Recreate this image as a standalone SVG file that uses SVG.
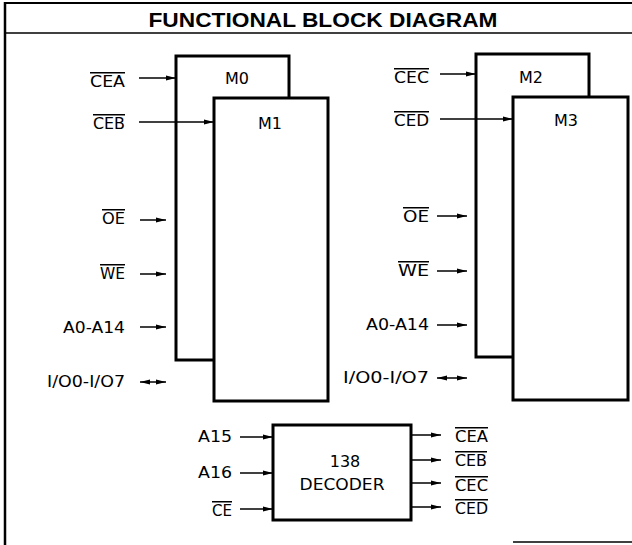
<svg xmlns="http://www.w3.org/2000/svg" width="632" height="545" viewBox="0 0 632 545">
<style>
.frame{stroke:#000;fill:none}
.box{fill:#fff;stroke:#000;stroke-width:3}
.ar{stroke:#000;stroke-width:1.5;fill:none;marker-end:url(#ah)}
.ar2{stroke:#000;stroke-width:1.5;fill:none;marker-end:url(#ah);marker-start:url(#ahs)}
text{font-family:"DejaVu Sans","Liberation Sans",sans-serif;font-size:15px;fill:#000}
.t{font-family:"Liberation Sans",Arial,sans-serif;font-weight:bold;font-size:21px}
.bl{font-size:16px}
.ov{text-decoration:overline}
.e{text-anchor:end}
.m{text-anchor:middle}
</style>
<defs>
<marker id="ah" markerUnits="userSpaceOnUse" markerWidth="10" markerHeight="6" refX="10" refY="3" orient="auto"><path d="M0,0.5 L10,3 L0,5.5 z" fill="#000"/></marker>
<marker id="ahs" markerUnits="userSpaceOnUse" markerWidth="10" markerHeight="6" refX="10" refY="3" orient="auto-start-reverse"><path d="M0,0.5 L10,3 L0,5.5 z" fill="#000"/></marker>
</defs>
<g id="frame">
<line class="frame" x1="4" y1="3" x2="632" y2="3" stroke-width="2"/>
<line class="frame" x1="4" y1="33" x2="632" y2="33" stroke-width="1.5"/>
<line class="frame" x1="5" y1="2" x2="5" y2="545" stroke-width="2.5"/>
<line class="frame" x1="513" y1="542" x2="632" y2="542" stroke-width="1.5" stroke="#555"/>
<text class="t m" x="323" y="27" textLength="349" lengthAdjust="spacingAndGlyphs">FUNCTIONAL BLOCK DIAGRAM</text>
</g>
<g id="M0"><rect class="box" x="176" y="56" width="113" height="304"/><text class="bl m" x="237" y="84">M0</text></g>
<g id="M1"><rect class="box" x="214" y="98" width="114" height="303"/><text class="bl m" x="270" y="129">M1</text></g>
<g id="M2"><rect class="box" x="476" y="54" width="113" height="303"/><text class="bl m" x="531" y="83">M2</text></g>
<g id="M3"><rect class="box" x="513" y="97" width="115" height="303"/><text class="bl m" x="566" y="126">M3</text></g>
<g id="decoder"><rect class="box" x="273" y="425" width="138" height="95"/><text class="bl m" x="345" y="467">138</text><text class="bl m" x="342" y="490" textLength="85" lengthAdjust="spacingAndGlyphs">DECODER</text></g>
<g id="connectors">
<line class="ar" x1="139" y1="78" x2="176" y2="78"/>
<line class="ar" x1="139" y1="122" x2="214" y2="122"/>
<line class="ar" x1="140" y1="220" x2="166" y2="220"/>
<line class="ar" x1="140" y1="274" x2="166" y2="274"/>
<line class="ar" x1="140" y1="327" x2="166" y2="327"/>
<line class="ar2" x1="140" y1="382" x2="166" y2="382"/>
<line class="ar" x1="440" y1="74" x2="476" y2="74"/>
<line class="ar" x1="440" y1="119" x2="513" y2="119"/>
<line class="ar" x1="437" y1="216" x2="467" y2="216"/>
<line class="ar" x1="437" y1="271" x2="467" y2="271"/>
<line class="ar" x1="437" y1="325" x2="467" y2="325"/>
<line class="ar2" x1="437" y1="378" x2="467" y2="378"/>
<line class="ar" x1="240" y1="437" x2="273" y2="437"/>
<line class="ar" x1="240" y1="473" x2="273" y2="473"/>
<line class="ar" x1="240" y1="509" x2="273" y2="509"/>
<line class="ar" x1="411" y1="435" x2="441" y2="435"/>
<line class="ar" x1="411" y1="460" x2="441" y2="460"/>
<line class="ar" x1="411" y1="483" x2="441" y2="483"/>
<line class="ar" x1="411" y1="507" x2="441" y2="507"/>
</g>
<g id="labels-left">
<text class="ov e" x="125" y="87" textLength="35" lengthAdjust="spacingAndGlyphs">CEA</text>
<text class="ov e" x="125" y="129" textLength="32" lengthAdjust="spacingAndGlyphs">CEB</text>
<text class="ov e" x="125" y="224" textLength="23" lengthAdjust="spacingAndGlyphs">OE</text>
<text class="ov e" x="125" y="279" textLength="25" lengthAdjust="spacingAndGlyphs">WE</text>
<text class="e" x="125" y="333" textLength="62" lengthAdjust="spacingAndGlyphs">A0-A14</text>
<text class="e" x="125" y="387" textLength="78" lengthAdjust="spacingAndGlyphs">I/O0-I/O7</text>
</g>
<g id="labels-right">
<text class="ov e" x="429" y="83" textLength="35" lengthAdjust="spacingAndGlyphs">CEC</text>
<text class="ov e" x="429" y="126" textLength="35" lengthAdjust="spacingAndGlyphs">CED</text>
<text class="ov e" x="429" y="222" textLength="26" lengthAdjust="spacingAndGlyphs">OE</text>
<text class="ov e" x="429" y="276" textLength="31" lengthAdjust="spacingAndGlyphs">WE</text>
<text class="e" x="429" y="330" textLength="63" lengthAdjust="spacingAndGlyphs">A0-A14</text>
<text class="e" x="429" y="383" textLength="86" lengthAdjust="spacingAndGlyphs">I/O0-I/O7</text>
</g>
<g id="labels-decoder">
<text class="e" x="232" y="442" textLength="34" lengthAdjust="spacingAndGlyphs">A15</text>
<text class="e" x="232" y="478" textLength="34" lengthAdjust="spacingAndGlyphs">A16</text>
<text class="ov e" x="232" y="516" textLength="20" lengthAdjust="spacingAndGlyphs">CE</text>
<text class="ov" x="455" y="442" textLength="33" lengthAdjust="spacingAndGlyphs">CEA</text>
<text class="ov" x="455" y="466" textLength="32" lengthAdjust="spacingAndGlyphs">CEB</text>
<text class="ov" x="455" y="491" textLength="33" lengthAdjust="spacingAndGlyphs">CEC</text>
<text class="ov" x="455" y="514" textLength="33" lengthAdjust="spacingAndGlyphs">CED</text>
</g>
</svg>
